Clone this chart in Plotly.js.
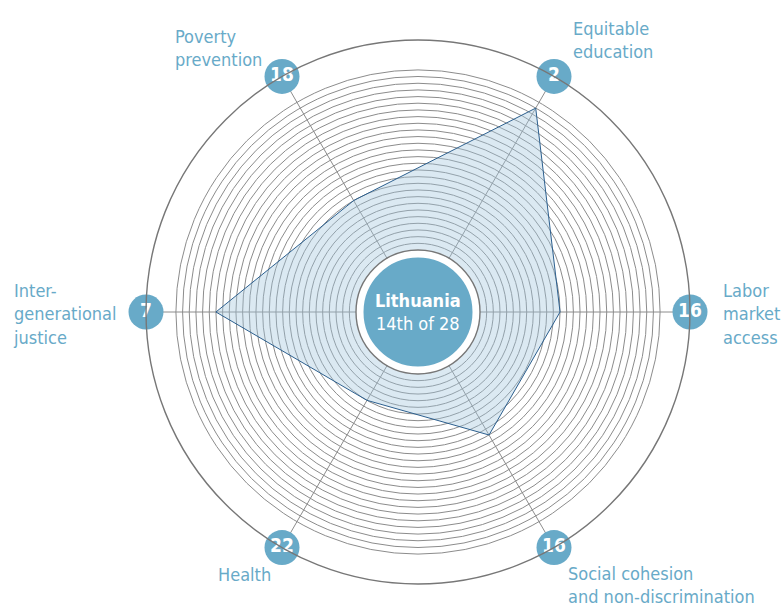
<!DOCTYPE html>
<html>
<head>
<meta charset="utf-8">
<script src="https://cdn.plot.ly/plotly-3.0.1.min.js"></script>
<style>
  html, body { margin: 0; padding: 0; background: #fff; }
  #chart { width: 781px; height: 608px; }
</style>
</head>
<body>
<div id="chart"></div>
<script>
// Ranks of the country in each dimension (1 = best of 28)
const categories = ['Labor market access', 'Equitable education', 'Poverty prevention',
                    'Intergenerational justice', 'Health', 'Social cohesion and non-discrimination'];
const ranks = [16, 2, 18, 7, 22, 16];
const labelText = ['Labor<br>market<br>access', 'Equitable<br>education', 'Poverty<br>prevention',
                   'Inter-<br>generational<br>justice', 'Health', 'Social cohesion<br>and non-discrimination'];
const country = 'Lithuania';
const overall = '14th of 28';
const nCountries = 28;

const W = 781, H = 608;
const cx = 418, cy = 312, R = 272;   // centre and outer radius, px
const innerR = 62;                    // radius of the last rank ring
const ringStep = 6.67;                // px per rank
const outerRank = nCountries - (R - innerR) / ringStep;  // value at the outer circle

const teal = '#68aac8';
const gray = '#8c8c8c';
const font = '"Liberation Sans Narrow", "DejaVu Sans Condensed", "Roboto Condensed", Roboto, sans-serif';

// label anchors (left edge, vertical middle), px
const labelPos = [[721, 314], [571, 40], [173, 48], [11, 314], [216, 574], [566, 585]];

let closed = {
  r: ranks.concat([ranks[0]]),
  theta: categories.concat([categories[0]])
};

let poly = {
  type: 'scatterpolar',
  r: closed.r,
  theta: closed.theta,
  mode: 'lines',
  fill: 'toself',
  fillcolor: 'rgba(160,198,222,0.38)',
  line: {color: '#2c5f8e', width: 1},
  hoverinfo: 'skip',
  showlegend: false
};

let badges = {
  type: 'scatterpolar',
  r: ranks.map(() => outerRank),
  theta: categories,
  mode: 'markers+text',
  text: ranks.map(String),
  textposition: 'middle center',
  textfont: {family: font, size: 19, color: 'white', weight: 'bold'},
  marker: {size: 35, color: teal, line: {width: 0}},
  cliponaxis: false,
  hoverinfo: 'skip',
  showlegend: false
};

let annotations = labelText.map((t, i) => ({
  text: t,
  xref: 'paper', yref: 'paper',
  x: labelPos[i][0] / W, y: 1 - labelPos[i][1] / H,
  xanchor: 'left', yanchor: 'middle', align: 'left',
  showarrow: false,
  font: {family: font, size: 18, color: teal}
}));

annotations.push({
  text: '<b>' + country + '</b><br>' + overall,
  xref: 'paper', yref: 'paper',
  x: cx / W, y: 1 - cy / H,
  xanchor: 'center', yanchor: 'middle', align: 'center',
  showarrow: false,
  font: {family: font, size: 18, color: 'white'}
});

let layout = {
  width: W, height: H,
  margin: {l: 0, r: 0, t: 0, b: 0},
  paper_bgcolor: 'white',
  showlegend: false,
  polar: {
    domain: {x: [(cx - R) / W, (cx + R) / W], y: [(H - cy - R) / H, (H - cy + R) / H]},
    bgcolor: 'white',
    hole: innerR / R,
    radialaxis: {
      range: [nCountries, outerRank],
      tickmode: 'array',
      tickvals: Array.from({length: nCountries}, (_, i) => i + 1),
      showticklabels: false,
      ticks: '',
      showline: false,
      gridcolor: gray,
      gridwidth: 1
    },
    angularaxis: {
      type: 'category',
      categoryarray: categories,
      rotation: 0,
      direction: 'counterclockwise',
      showticklabels: false,
      ticks: '',
      showline: true,
      linecolor: '#777777',
      linewidth: 1.4,
      gridcolor: gray,
      gridwidth: 1
    }
  },
  shapes: [{
    type: 'circle',
    xref: 'paper', yref: 'paper',
    xsizemode: 'pixel', ysizemode: 'pixel',
    xanchor: cx / W, yanchor: 1 - cy / H,
    x0: -57, x1: 57, y0: -57, y1: 57,
    fillcolor: teal,
    line: {color: 'white', width: 5}
  }],
  annotations: annotations
};

Plotly.newPlot('chart', [poly, badges], layout, {displayModeBar: false, staticPlot: true});
</script>
</body>
</html>
